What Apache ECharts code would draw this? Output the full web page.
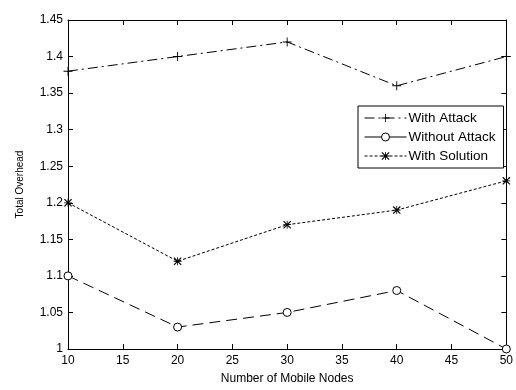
<!DOCTYPE html>
<html>
<head>
<meta charset="utf-8">
<script src="https://cdn.jsdelivr.net/npm/echarts@6/dist/echarts.min.js"></script>
<style>html,body{margin:0;padding:0;background:#fff}#c{width:516px;height:390px}</style>
</head>
<body>
<div id="c"></div>
<script>
var nodes = [10, 20, 30, 40, 50];
var withAttack = [1.38, 1.40, 1.42, 1.36, 1.40];
var withoutAttack = [1.10, 1.03, 1.05, 1.08, 1.00];
var withSolution = [1.20, 1.12, 1.17, 1.19, 1.23];
var seriesNames = ['With Attack', 'Without Attack', 'With Solution'];

var plusPath = 'path://M4.5,0h1v4.5h4.5v1h-4.5v4.5h-1v-4.5h-4.5v-1h4.5z';
var starPath = 'path://M4.5,0h1v10h-1z M0,4.5h10v1h-10z M1,0L10,9L9,10L0,1z M9,0L10,1L1,10L0,9z';

function pairs(ys){ return nodes.map(function(x,i){ return [x, ys[i]]; }); }

var font = 'Arial, "Liberation Sans", sans-serif';
var chart = echarts.init(document.getElementById('c'), null, {renderer:'canvas'});
var axisCommon = {
  axisLine:{show:true, onZero:false, lineStyle:{color:'#000', width:1}},
  axisTick:{show:true, inside:true, length:5, lineStyle:{color:'#000'}},
  splitLine:{show:false}
};
chart.setOption({
  animation:false,
  backgroundColor:'#fff',
  grid:{left:68, top:20, right:6, bottom:34, containLabel:false},
  xAxis:[
    Object.assign({type:'value', min:10, max:50, interval:5, position:'bottom',
      axisLabel:{color:'#000', fontFamily:font, fontSize:12, margin:6},
      name:'Number of Mobile Nodes', nameLocation:'middle', nameGap:24,
      nameTextStyle:{color:'#000', fontFamily:font, fontSize:12}}, axisCommon),
    Object.assign({type:'value', min:10, max:50, interval:5, position:'top',
      axisLabel:{show:false}}, axisCommon)
  ],
  yAxis:[
    Object.assign({type:'value', min:1, max:1.45, interval:0.05, position:'left',
      axisLabel:{color:'#000', fontFamily:font, fontSize:12, margin:5},
      name:'Total Overhead', nameLocation:'middle', nameGap:43,
      nameTextStyle:{color:'#000', fontFamily:font, fontSize:10}}, axisCommon),
    Object.assign({type:'value', min:1, max:1.45, interval:0.05, position:'right',
      axisLabel:{show:false}}, axisCommon)
  ],
  legend:{
    left:358, top:106, orient:'vertical', itemGap:5, itemWidth:42, itemHeight:10,
    padding:[5,8,5,6], borderColor:'#000', borderWidth:1, backgroundColor:'#fff',
    textStyle:{color:'#000', fontFamily:font, fontSize:13.5, padding:[0,0,0,-3]},
    itemStyle:{borderWidth:1},
    lineStyle:{width:1},
    data:[
      {name:seriesNames[0]},
      {name:seriesNames[1], lineStyle:{type:'solid', width:1}},
      {name:seriesNames[2]}
    ]
  },
  series:[
    {name:seriesNames[0], type:'line', data:pairs(withAttack), symbol:plusPath, symbolSize:9,
      itemStyle:{color:'#000'}, lineStyle:{color:'#000', width:1, type:[10,4,2,4]}},
    {name:seriesNames[1], type:'line', data:pairs(withoutAttack), symbol:'circle', symbolSize:8,
      itemStyle:{color:'#fff', borderColor:'#000', borderWidth:1}, lineStyle:{color:'#000', width:1, type:[11,6]}},
    {name:seriesNames[2], type:'line', data:pairs(withSolution), symbol:starPath, symbolSize:8,
      itemStyle:{color:'#000'}, lineStyle:{color:'#000', width:1, type:[3,2]}}
  ]
});
</script>
</body>
</html>
